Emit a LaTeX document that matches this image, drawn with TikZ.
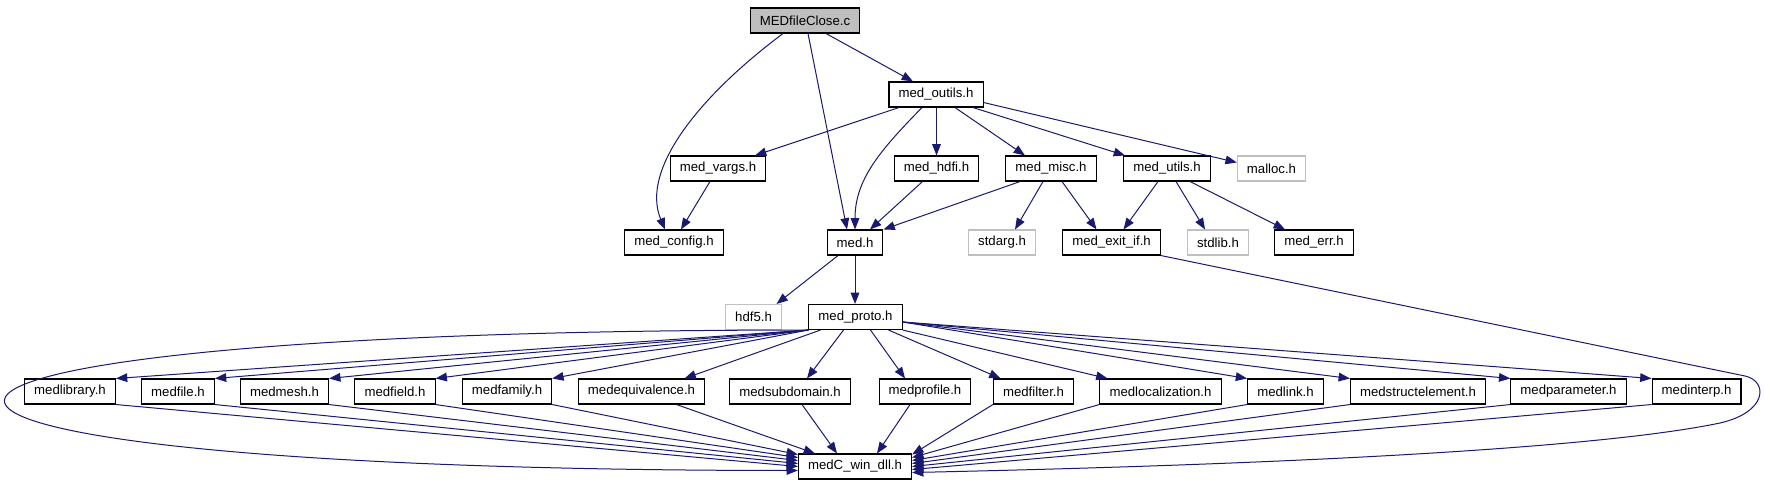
\documentclass[tikz,border=0pt]{standalone}
\usepackage{fontspec}
\setmainfont{Liberation Sans}
\usepackage{tikz}
\usetikzlibrary{arrows.meta,calc}
\definecolor{edgec}{HTML}{191970}
\definecolor{sysline}{HTML}{C0C0C0}
\definecolor{rootfill}{HTML}{BFBFBF}
\tikzset{
  hdr/.style={draw=black, line width=0.8pt, fill=white, minimum height=18.75pt, inner xsep=7.2pt,
              inner ysep=0pt, font=\fontsize{9.9}{11}\selectfont},
  sys/.style={hdr, draw=sysline},
  root/.style={hdr, fill=rootfill},
  dep/.style={-{Triangle[length=8.5pt,width=6.5pt]}, edgec, line width=0.75pt},
}
\def\yA{20.5}
\def\yB{94.5}
\def\yC{168.5}
\def\yD{242.5}
\def\yE{317}
\def\yF{391.5}
\def\yG{466.5}

\begin{document}
\begin{tikzpicture}[x=0.75pt,y=-0.75pt]
  \useasboundingbox (0,0) rectangle (1765,485);
  % upper part
  \node[root] (close) at (805,\yA) {MEDfileClose.c};
  \node[hdr] (outils) at (936,\yB) {med\_outils.h};
  \node[hdr] (vargs) at (718,\yC) {med\_vargs.h};
  \node[hdr] (hdfi) at (936.5,\yC) {med\_hdfi.h};
  \node[hdr] (misc) at (1051,\yC) {med\_misc.h};
  \node[hdr] (utils) at (1167,\yC) {med\_utils.h};
  \node[sys] (malloc) at (1271.5,\yC) {malloc.h};
  \node[hdr] (config) at (674,\yD) {med\_config.h};
  \node[hdr] (med) at (855,\yD) {med.h};
  \node[sys] (stdarg) at (1002,\yD) {stdarg.h};
  \node[hdr] (exitif) at (1111.5,\yD) {med\_exit\_if.h};
  \node[sys] (stdlib) at (1218,\yD) {stdlib.h};
  \node[hdr] (err) at (1314,\yD) {med\_err.h};
  \node[sys] (hdf) at (753.5,\yE) {hdf5.h};
  \node[hdr] (proto) at (855.5,\yE) {med\_proto.h};
  % row of api headers
  \node[hdr] (lib) at (70,\yF) {medlibrary.h};
  \node[hdr] (file) at (178,\yF) {medfile.h};
  \node[hdr] (mesh) at (284.5,\yF) {medmesh.h};
  \node[hdr] (field) at (395,\yF) {medfield.h};
  \node[hdr] (fam) at (507,\yF) {medfamily.h};
  \node[hdr] (equiv) at (641.5,\yF) {medequivalence.h};
  \node[hdr] (subd) at (790,\yF) {medsubdomain.h};
  \node[hdr] (profile) at (925,\yF) {medprofile.h};
  \node[hdr] (filter) at (1033.5,\yF) {medfilter.h};
  \node[hdr] (loc) at (1160.5,\yF) {medlocalization.h};
  \node[hdr] (link) at (1285.5,\yF) {medlink.h};
  \node[hdr] (struct) at (1418,\yF) {medstructelement.h};
  \node[hdr] (param) at (1568.5,\yF) {medparameter.h};
  \node[hdr] (interp) at (1696.5,\yF) {medinterp.h};
  \node[hdr] (dll) at (855,\yG) {medC\_win\_dll.h};

  \draw[dep] ($(close.south)+(21,0)$) -- ($(outils.north)+(-23,0)$);
  \draw[dep] ($(close.south)+(3,0)$) -- ($(med.north)+(-8,0)$);
  \draw[dep] ($(close.south)+(-22,0)$) .. controls +(-83,62) and +(-25,-60) .. ($(config.north)+(-9,0)$);
  \draw[dep] ($(outils.south)+(-37,0)$) -- ($(vargs.north)+(37,0)$);
  \draw[dep] ($(outils.south)+(-14,0)$) .. controls +(-42,43) and +(0,-50) .. (med.north);
  \draw[dep] (outils.south -| hdfi.north) -- (hdfi.north);
  \draw[dep] ($(outils.south)+(19,0)$) -- ($(misc.north)+(-26,0)$);
  \draw[dep] ($(outils.south)+(37,0)$) -- ($(utils.north)+(-42,0)$);
  \draw[dep] ($(outils.east)+(0,8)$) -- ($(malloc.west)+(0,-6)$);
  \draw[dep] ($(vargs.south)+(-8,0)$) -- ($(config.north)+(7,0)$);
  \draw[dep] ($(hdfi.south)+(-14,0)$) -- ($(med.north)+(15,0)$);
  \draw[dep] ($(misc.south)+(-31,0)$) -- (med.north east);
  \draw[dep] ($(misc.south)+(-8,0)$) -- ($(stdarg.north)+(13,0)$);
  \draw[dep] ($(misc.south)+(11,0)$) -- ($(exitif.north)+(-15,0)$);
  \draw[dep] ($(utils.south)+(-9,0)$) -- ($(exitif.north)+(12,0)$);
  \draw[dep] ($(utils.south)+(9,0)$) -- ($(stdlib.north)+(-13,0)$);
  \draw[dep] ($(utils.south)+(23,0)$) -- ($(err.north)+(-29,0)$);
  \draw[dep] ($(med.south)+(-17,0)$) -- ($(hdf.north)+(23,0)$);
  \draw[dep] (med.south) -- (med.south |- proto.north);

  % med_proto.h fans out
  \foreach \n in {lib,file,mesh,field,fam}
    \draw[dep] (proto.south west) -- (\n.north east);
  \draw[dep] ($(proto.south)+(-35,0)$) -- ($(equiv.north)+(43,0)$);
  \draw[dep] ($(proto.south)+(-12,0)$) -- ($(subd.north)+(17,0)$);
  \draw[dep] ($(proto.south)+(15,0)$) -- ($(profile.north)+(-20,0)$);
  \draw[dep] ($(proto.south)+(33,0)$) -- ($(filter.north)+(-33,0)$);
  \draw[dep] (proto.south east) -- ($(loc.north)+(-53,0)$);
  \foreach \n in {link,struct,param,interp}
    \draw[dep] ($(proto.east)+(0,5)$) -- (\n.north west);
  \draw[dep] (proto.south west) .. controls (-255,330) and (-265,470) .. ($(dll.west)+(0,4)$);

  % everything ends in medC_win_dll.h
  \foreach \n/\dy in {fam/-12,field/-9,mesh/-6,file/-3,lib/0}
    \draw[dep] (\n.south east) -- ($(dll.west)+(0,\dy)$);
  \draw[dep] ($(equiv.south)+(35,0)$) -- ($(dll.north)+(-40,0)$);
  \draw[dep] ($(subd.south)+(12,0)$) -- ($(dll.north)+(-18,0)$);
  \draw[dep] ($(profile.south)+(-15,0)$) -- ($(dll.north)+(22,0)$);
  \foreach \n/\dy in {filter/-12,loc/-9,link/-6,struct/-3,param/0,interp/3}
    \draw[dep] (\n.south west) -- ($(dll.east)+(0,\dy)$);
  \draw[dep] (exitif.south east) -- (1745,376) .. controls (1768,381) and (1768,412) .. (1720,423)
    .. controls (1600,448) and (1300,464) .. ($(dll.east)+(0,6)$);
\end{tikzpicture}
\end{document}
